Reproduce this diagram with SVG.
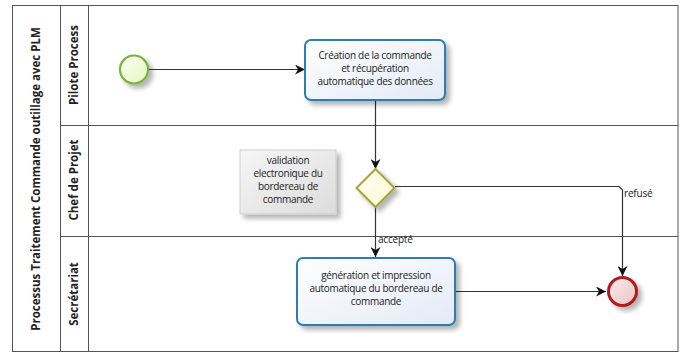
<svg xmlns="http://www.w3.org/2000/svg" width="686" height="354" viewBox="0 0 686 354">
  <defs>
    <linearGradient id="gTask" x1="0" y1="0" x2="1" y2="1">
      <stop offset="0" stop-color="#ffffff"/>
      <stop offset="1" stop-color="#e3e9f6"/>
    </linearGradient>
    <linearGradient id="gStart" x1="0" y1="0" x2="1" y2="1">
      <stop offset="0" stop-color="#fbfff0"/>
      <stop offset="1" stop-color="#e6f6c6"/>
    </linearGradient>
    <linearGradient id="gEnd" x1="0" y1="0" x2="1" y2="1">
      <stop offset="0" stop-color="#fbecec"/>
      <stop offset="1" stop-color="#eec2c4"/>
    </linearGradient>
    <linearGradient id="gGate" x1="0" y1="0" x2="1" y2="1">
      <stop offset="0" stop-color="#ffffef"/>
      <stop offset="1" stop-color="#fbf8d6"/>
    </linearGradient>
    <linearGradient id="gNote" x1="0" y1="0" x2="1" y2="1">
      <stop offset="0" stop-color="#f6f6f6"/>
      <stop offset="1" stop-color="#dcdcdc"/>
    </linearGradient>
    <filter id="shadow" x="-20%" y="-20%" width="150%" height="150%">
      <feGaussianBlur in="SourceAlpha" stdDeviation="2.5"/>
      <feOffset dx="4" dy="4" result="b"/>
      <feComponentTransfer><feFuncA type="linear" slope="0.3"/></feComponentTransfer>
      <feMerge><feMergeNode/><feMergeNode in="SourceGraphic"/></feMerge>
    </filter>
    <marker id="arrow" viewBox="0 0 10 10" refX="10" refY="5" markerWidth="10" markerHeight="10" markerUnits="userSpaceOnUse" orient="auto">
      <path d="M0,0 L10,5 L0,10 L3,5 Z" fill="#111"/>
    </marker>
  </defs>
  <style>
    .lane { fill: none; stroke: #555; stroke-width: 1; }
    .label { font-family: "Open Sans", "Liberation Sans", sans-serif; font-size: 11.5px; font-weight: bold; fill: #222; text-anchor: middle; }
    .txt { font-family: "Open Sans", "Liberation Sans", sans-serif; font-size: 10px; fill: #222; text-anchor: middle; letter-spacing: -0.3px; }
    .small { font-family: "Open Sans", "Liberation Sans", sans-serif; font-size: 10px; fill: #222; letter-spacing: -0.2px; }
    .flow { fill: none; stroke: #333; stroke-width: 1.2; }
    .task { fill: url(#gTask); stroke: #2a7fb0; stroke-width: 2; filter: url(#shadow); }
  </style>

  <rect width="686" height="354" fill="#ffffff"/>

  <!-- pool and lanes -->
  <g id="pool">
    <rect class="lane" x="12.5" y="5.5" width="665.5" height="346"/>
    <line class="lane" x1="60.5" y1="5.5" x2="60.5" y2="351.5"/>
    <line class="lane" x1="88.5" y1="5.5" x2="88.5" y2="351.5"/>
    <line class="lane" x1="60.5" y1="125.5" x2="678" y2="125.5"/>
    <line class="lane" x1="60.5" y1="236.5" x2="678" y2="236.5"/>
    <text class="label" transform="translate(40,179) rotate(-90)">Processus Traitement Commande outillage avec PLM</text>
    <text class="label" transform="translate(78,65) rotate(-90)">Pilote Process</text>
    <text class="label" transform="translate(78,180) rotate(-90)">Chef de Projet</text>
    <text class="label" transform="translate(78,294) rotate(-90)">Secrétariat</text>
  </g>

  <!-- connectors -->
  <g id="connectors">
    <line class="flow" x1="148.5" y1="69.5" x2="305" y2="69.5" marker-end="url(#arrow)"/>
    <line class="flow" x1="375.5" y1="100" x2="375.5" y2="169" marker-end="url(#arrow)"/>
    <polyline class="flow" points="395,186.5 619,186.5 622.5,190 622.5,276" marker-end="url(#arrow)"/>
    <line class="flow" x1="375.5" y1="207" x2="375.5" y2="257" marker-end="url(#arrow)"/>
    <line class="flow" x1="455" y1="291.5" x2="606" y2="291.5" marker-end="url(#arrow)"/>
    <text class="small" x="624" y="197">refusé</text>
    <text class="small" x="378" y="243">accepté</text>
  </g>

  <g id="start">
    <circle cx="134" cy="69.5" r="14" fill="url(#gStart)" stroke="#78b43a" stroke-width="2.2" filter="url(#shadow)"/>
  </g>

  <g id="task-creation">
    <rect class="task" x="305" y="40" width="140" height="60" rx="6"/>
    <text class="txt" x="375" y="59">Création de la commande</text>
    <text class="txt" x="375" y="72">et récupération</text>
    <text class="txt" x="375" y="85">automatique des données</text>
  </g>

  <g id="gateway">
    <path d="M375.5,169 L394.5,188 L375.5,207 L356.5,188 Z" fill="url(#gGate)" stroke="#a6a338" stroke-width="2" filter="url(#shadow)"/>
  </g>

  <g id="annotation">
    <rect x="240" y="150" width="96" height="64" fill="url(#gNote)" stroke="#cfcfcf" stroke-width="1" filter="url(#shadow)"/>
    <text class="txt" x="288" y="164">validation</text>
    <text class="txt" x="288" y="177">electronique du</text>
    <text class="txt" x="288" y="190">bordereau de</text>
    <text class="txt" x="288" y="203">commande</text>
  </g>

  <g id="task-generation">
    <rect class="task" x="297" y="258" width="158" height="67" rx="6"/>
    <text class="txt" x="376" y="279">génération et impression</text>
    <text class="txt" x="376" y="292">automatique du bordereau de</text>
    <text class="txt" x="376" y="305">commande</text>
  </g>

  <g id="end">
    <circle cx="622.5" cy="291.5" r="14" fill="url(#gEnd)" stroke="#b01c1c" stroke-width="3" filter="url(#shadow)"/>
  </g>
</svg>
